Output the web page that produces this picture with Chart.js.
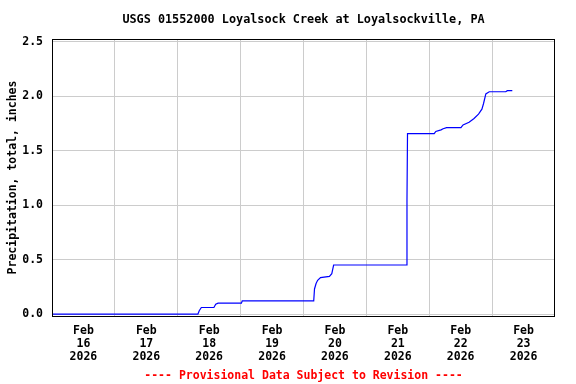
<!DOCTYPE html>
<html>
<head>
<meta charset="utf-8">
<script src="https://cdn.jsdelivr.net/npm/chart.js@4/dist/chart.umd.min.js"></script>
<style>
  html, body { margin: 0; padding: 0; background: #fff; }
  #wrap { width: 576px; height: 384px; }
</style>
</head>
<body>
<div id="wrap"><canvas id="precipChart" width="576" height="384"></canvas></div>
<script>
const chartTitle = "USGS 01552000 Loyalsock Creek at Loyalsockville, PA";
const footerText = "---- Provisional Data Subject to Revision ----";
const yAxisTitle = "Precipitation, total, inches";

// hours since Feb 16 2026 00:00
const hours = [0, 55.7, 56.2, 57.0, 61.8, 62.5, 63.4, 72.3, 72.6, 99.9,
  100.2, 100.8, 101.4, 102.5, 105.9, 106.8, 107.5, 135.3, 135.5, 135.7,
  145.9, 146.5, 148.5, 149.3, 150.6, 156.1, 156.9, 159.2, 161.1, 162.8,
  164.1, 164.7, 165.6, 166.9, 173.2, 173.8, 175.7];
// cumulative precipitation, inches
const precip = [0, 0, 0.03, 0.06, 0.06, 0.09, 0.10, 0.10, 0.12, 0.12,
  0.23, 0.28, 0.31, 0.335, 0.345, 0.37, 0.45, 0.45, 1.05, 1.655,
  1.655, 1.675, 1.69, 1.70, 1.71, 1.71, 1.735, 1.76, 1.795, 1.835,
  1.88, 1.93, 2.02, 2.04, 2.04, 2.05, 2.05];

const dayLabels = ["16", "17", "18", "19", "20", "21", "22", "23"];
const yTicks = [0, 0.5, 1.0, 1.5, 2.0, 2.5];

const monoFont = "'DejaVu Sans Mono', 'Liberation Mono', monospace";

const points = hours.map((h, i) => ({ x: h, y: precip[i] }));

// title, footer and the box around the plot
const framePlugin = {
  id: "frame",
  afterDraw(chart) {
    const { ctx, chartArea } = chart;
    const cx = (chartArea.left + chartArea.right) / 2;
    ctx.save();
    ctx.strokeStyle = "#000";
    ctx.lineWidth = 1;
    ctx.strokeRect(chartArea.left + 0.5, chartArea.top + 0.5,
      chartArea.right - chartArea.left - 1, chartArea.bottom - chartArea.top);
    ctx.textAlign = "center";
    ctx.textBaseline = "middle";
    ctx.font = "bold 11.8px " + monoFont;
    ctx.fillStyle = "#000";
    ctx.fillText(chartTitle, cx, 20);
    ctx.font = "bold 11.5px " + monoFont;
    ctx.fillStyle = "#ff0000";
    ctx.fillText(footerText, cx, 376);
    ctx.restore();
  }
};

new Chart(document.getElementById("precipChart"), {
  type: "line",
  data: {
    datasets: [{
      data: points,
      borderColor: "#0000ff",
      borderWidth: 1.2,
      pointRadius: 0,
      fill: false,
      tension: 0
    }]
  },
  options: {
    responsive: false,
    animation: false,
    devicePixelRatio: 1,
    layout: { padding: { top: 39, right: 21, bottom: 0, left: 0 } },
    plugins: {
      legend: { display: false },
      tooltip: { enabled: false }
    },
    scales: {
      x: {
        type: "linear",
        min: 0,
        max: 192,
        afterFit: (scale) => { scale.height = 68; },
        afterBuildTicks: (scale) => {
          const t = [];
          for (let h = 0; h <= 192; h += 12) t.push({ value: h });
          scale.ticks = t;
        },
        border: { display: false },
        grid: {
          drawTicks: false,
          color: (c) => (c.tick && c.tick.value % 24 === 0 && c.tick.value > 0 && c.tick.value < 192) ? "#cccccc" : "rgba(0,0,0,0)",
          lineWidth: 1
        },
        ticks: {
          autoSkip: false,
          maxRotation: 0,
          padding: 8,
          color: "#000",
          font: { family: monoFont, size: 11.5, weight: "bold", lineHeight: 1.16 },
          callback: (v) => {
            if (v % 24 !== 12) return "";
            return ["Feb", dayLabels[Math.floor(v / 24)], "2026"];
          }
        }
      },
      y: {
        min: -0.018,
        max: 2.524,
        afterFit: (scale) => { scale.width = 52; },
        afterBuildTicks: (scale) => {
          scale.ticks = yTicks.map((v) => ({ value: v }));
        },
        border: { display: false },
        grid: {
          drawTicks: false,
          color: "#cccccc",
          lineWidth: 1
        },
        ticks: {
          padding: 9,
          color: "#000",
          font: { family: monoFont, size: 11.5, weight: "bold" },
          callback: (v) => v.toFixed(1)
        },
        title: {
          display: true,
          text: yAxisTitle,
          color: "#000",
          padding: { top: 6, bottom: 0 },
          font: { family: monoFont, size: 11.5, weight: "bold" }
        }
      }
    }
  },
  plugins: [framePlugin]
});
</script>
</body>
</html>
